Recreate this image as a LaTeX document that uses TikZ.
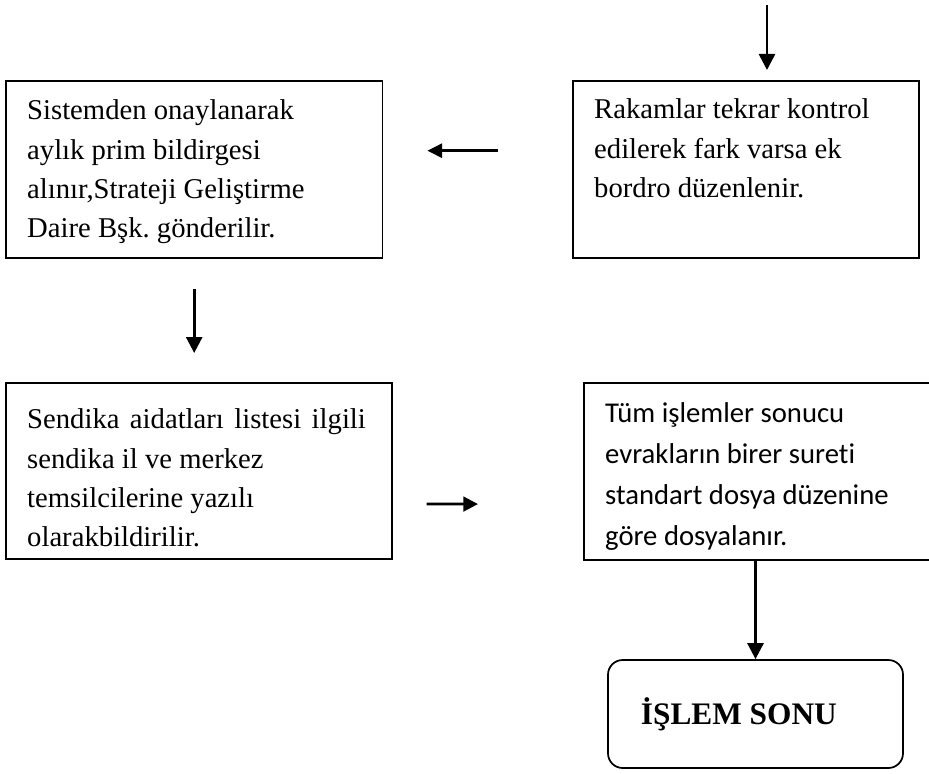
\documentclass[tikz,border=0pt]{standalone}
\usepackage{fontspec}
\setmainfont{Liberation Serif}
\newfontfamily\calibri[Ligatures=NoCommon]{Carlito}
\usetikzlibrary{arrows.meta}
\frenchspacing

% box text: height, width, first baseline, lines
\newcommand{\kutumetni}[4]{\parbox[t][#1][t]{#2}{\rule{0pt}{#3}#4}}

\begin{document}
\begin{tikzpicture}[x=0.75pt, y=-0.75pt,
                kutu/.style={draw, line width=1.3pt, anchor=north west,
                  inner xsep=16pt, inner ysep=0pt,
                  font=\fontsize{21.5}{29.5}\selectfont},
                bitis/.style={draw, line width=1.3pt, rounded corners=11pt,
                  minimum width=221.25pt, minimum height=81pt,
                  font=\bfseries\fontsize{23.5}{28}\selectfont},
                ok/.style={-{Triangle[width=12pt,length=12pt]}, line width=2pt}
                ]
                \useasboundingbox (0,0) rectangle (929,774);

                % boxes
                \node[kutu] (sistem) at (5,80)
                {\kutumetni{132.75pt}{250.5pt}{29.25pt}{Sistemden onaylanarak\\
                    aylık prim bildirgesi\\alınır,Strateji Geliştirme\\Daire Bşk. gönderilir.}};
                \node[kutu] (rakam) at (572,80)
                {\kutumetni{132.75pt}{227.5pt}{28.5pt}{Rakamlar tekrar kontrol\\
                    edilerek fark varsa ek\\bordro düzenlenir.}};
                \node[kutu] (sendika) at (5,382)
                {\kutumetni{132pt}{257.5pt}{34.5pt}{\makebox[254pt][s]{Sendika aidatları listesi ilgili}\\
                    sendika il ve merkez\\temsilcilerine yazılı\\olarakbildirilir.}};
                \node[kutu, font=\calibri\fontsize{21.5}{30.75}\selectfont] (dosya) at (583,382)
                {\kutumetni{132.75pt}{232pt}{30pt}{Tüm işlemler sonucu\\
                    evrakların birer sureti\\standart dosya düzenine\\göre dosyalanır.}};
                \node[bitis] (son) at (755.5,714) {İŞLEM SONU\hspace*{25pt}};

                % arrows
                \coordinate (giris) at (767,5);
                \draw[ok, shorten >=7.5pt] (giris) -- (giris |- rakam.north);
                \draw[ok, -{Triangle[width=10.5pt,length=11pt]},
                  shorten <=55.5pt, shorten >=33pt]
                ([yshift=14pt]rakam.west) -- ([yshift=14pt]sistem.east);
                \draw[ok, shorten <=23pt, shorten >=21.75pt]
                (sistem.south) -- (sistem.south |- sendika.north);
                \draw[ok, -{Triangle[width=11pt,length=11pt]},
                  shorten <=25.5pt, shorten >=78.75pt]
                ([yshift=-24.75pt]sendika.east) -- ([yshift=-24.75pt]dosya.west);
                \draw[ok] (son.north |- dosya.south) -- (son.north);
              \end{tikzpicture}
\end{document}
